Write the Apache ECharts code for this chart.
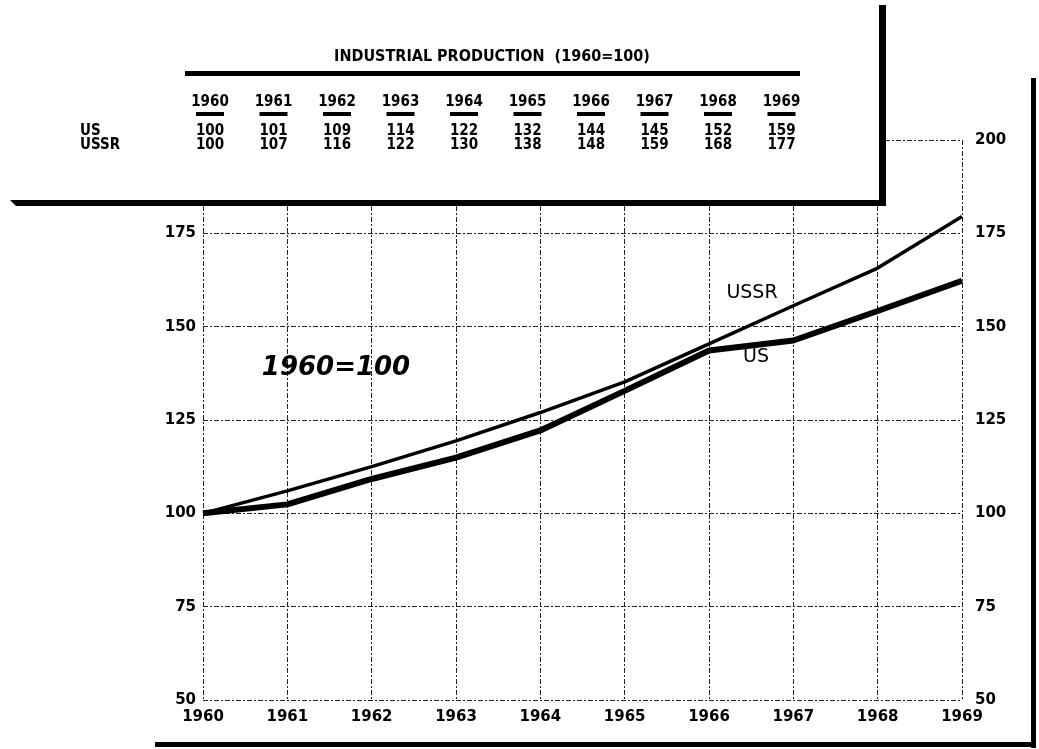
<!DOCTYPE html>
<html>
<head>
<meta charset="utf-8">
<script src="https://cdn.jsdelivr.net/npm/echarts@6/dist/echarts.min.js"></script>
<style>
html,body{margin:0;padding:0;background:#fff;}
#chart{width:1039px;height:749px;}
</style>
</head>
<body>
<div id="chart"></div>
<script>
// ---- data ----
const years = ['1960','1961','1962','1963','1964','1965','1966','1967','1968','1969'];
// table values (printed in the box)
const usTable   = [100, 101, 109, 114, 122, 132, 144, 145, 152, 159];
const ussrTable = [100, 107, 116, 122, 130, 138, 148, 159, 168, 177];
// values
const usLine   = [100, 102.4, 109.2, 114.9, 122.2, 132.8, 143.6, 146.3, 154.2, 162.3];
const ussrLine = [100, 106, 112.5, 119.4, 127, 135.2, 145.4, 155.6, 165.7, 179.5];
const rowLabels = ['US', 'USSR'];
const tableTitle = 'INDUSTRIAL PRODUCTION  (1960=100)';
const baseNote = '1960=100';

const chart = echarts.init(document.getElementById('chart'));
const tableFont = '"Liberation Sans Narrow","DejaVu Sans Condensed",sans-serif';
const axisFont = '"DejaVu Sans",sans-serif';

const graphics = [];
// white table box covering upper-left of plot
graphics.push({type:'rect', z:100, shape:{x:0,y:0,width:886,height:206}, style:{fill:'#fff'}});
graphics.push({type:'rect', z:101, shape:{x:879,y:5,width:7,height:201}, style:{fill:'#000'}});
graphics.push({type:'polygon', z:101, shape:{points:[[10,200],[886,200],[886,206],[16,206]]}, style:{fill:'#000'}});
// outer frame lines
graphics.push({type:'rect', z:101, shape:{x:1031,y:78,width:5,height:670}, style:{fill:'#000'}});
graphics.push({type:'rect', z:101, shape:{x:155,y:742,width:881,height:5}, style:{fill:'#000'}});
// table title and rule
graphics.push({type:'text', z:102, x:492, y:57, style:{text:tableTitle, font:'bold 16px '+tableFont, fill:'#000', align:'center', verticalAlign:'middle'}});
graphics.push({type:'rect', z:102, shape:{x:185,y:71,width:615,height:5}, style:{fill:'#000'}});
// row labels
rowLabels.forEach((r, k) => {
  graphics.push({type:'text', z:102, x:80, y:131 + k*14, style:{text:r, font:'bold 15px '+tableFont, fill:'#000', align:'left', verticalAlign:'middle'}});
});
years.forEach((yr, i) => {
  const cx = 210 + i*63.5;
  graphics.push({type:'text', z:102, x:cx, y:102, style:{text:yr, font:'bold 15px '+tableFont, fill:'#000', align:'center', verticalAlign:'middle'}});
  graphics.push({type:'rect', z:102, shape:{x:cx-14,y:112,width:28,height:4}, style:{fill:'#000'}});
  graphics.push({type:'text', z:102, x:cx, y:131, style:{text:String(usTable[i]), font:'bold 15px '+tableFont, fill:'#000', align:'center', verticalAlign:'middle'}});
  graphics.push({type:'text', z:102, x:cx, y:145, style:{text:String(ussrTable[i]), font:'bold 15px '+tableFont, fill:'#000', align:'center', verticalAlign:'middle'}});
});
// annotations
graphics.push({type:'text', z:50, x:336, y:368, style:{text:baseNote, font:'italic bold 26px '+axisFont, fill:'#000', align:'center', verticalAlign:'middle'}});
graphics.push({type:'text', z:50, x:752, y:293, style:{text:'USSR', font:'19px '+axisFont, fill:'#000', align:'center', verticalAlign:'middle'}});
graphics.push({type:'text', z:50, x:756, y:357, style:{text:'US', font:'19px '+axisFont, fill:'#000', align:'center', verticalAlign:'middle'}});

const gridLine = {show:true, lineStyle:{color:'#222', width:1, type:[5,2,2,2]}};

chart.setOption({
  animation:false,
  backgroundColor:'#fff',
  grid:{left:203, right:77, top:140, bottom:49},
  xAxis:{
    type:'category', data:years, boundaryGap:false,
    axisLine:{show:false}, axisTick:{show:false},
    axisLabel:{margin:10, color:'#000', fontSize:15, fontWeight:'bold', fontFamily:axisFont},
    splitLine:gridLine
  },
  yAxis:[
    {type:'value', min:50, max:200, interval:25, position:'left',
     axisLine:{show:false}, axisTick:{show:false},
     axisLabel:{margin:7, color:'#000', fontSize:15, fontWeight:'bold', fontFamily:axisFont},
     splitLine:gridLine},
    {type:'value', min:50, max:200, interval:25, position:'right',
     axisLine:{show:false}, axisTick:{show:false},
     axisLabel:{margin:13, color:'#000', fontSize:15, fontWeight:'bold', fontFamily:axisFont},
     splitLine:{show:false}}
  ],
  series:[
    {name:'US', type:'line', data:usLine, symbol:'none', lineStyle:{color:'#000', width:6}, z:10},
    {name:'USSR', type:'line', data:ussrLine, symbol:'none', lineStyle:{color:'#000', width:3.5}, z:9}
  ],
  graphic:graphics
});
</script>
</body>
</html>
